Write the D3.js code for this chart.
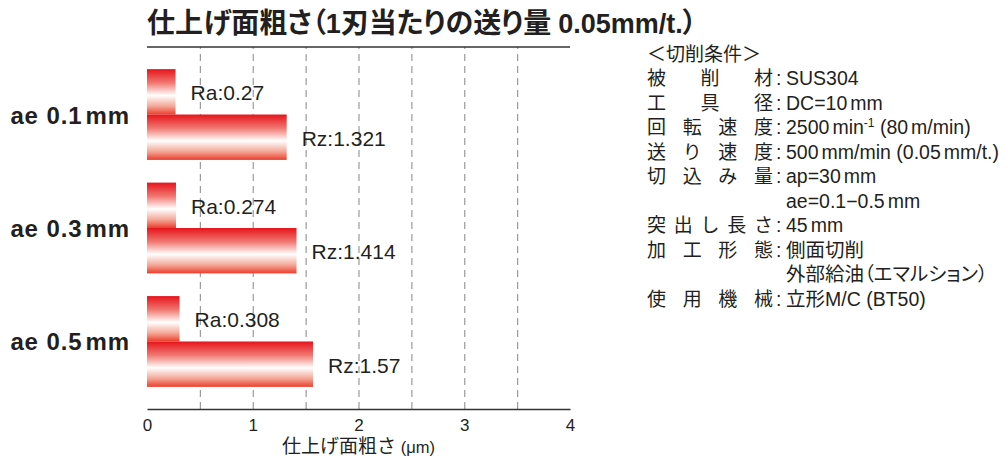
<!DOCTYPE html>
<html lang="ja">
<head>
<meta charset="utf-8">
<script src="https://cdn.jsdelivr.net/npm/d3@7"></script>
<style>
  html, body { margin: 0; padding: 0; background: #fff; }
  svg { display: block; }
  text { fill: #231f20; }
</style>
</head>
<body>
<svg id="chart" width="1005" height="457"></svg>
<script>
// Surface roughness per radial depth of cut (feed per tooth 0.05 mm/t.)
const categories = ["ae 0.1\u2009mm", "ae 0.3\u2009mm", "ae 0.5\u2009mm"];
const seriesKeys = ["Ra", "Rz"];
const raValues = [0.27, 0.274, 0.308];
const rzValues = [1.321, 1.414, 1.57];
const xTicks = [0, 1, 2, 3, 4];
const gridValues = [0.5, 1, 1.5, 2, 2.5, 3, 3.5];

// Cutting conditions: label (blank = continuation line) and value
const condLabels = ["被削材", "工具径", "回転速度", "送り速度", "切込み量", "", "突出し長さ", "加工形態", "", "使用機械"];
const condValues = [
  "SUS304",
  "DC=10\u2009mm",
  "2500\u2009min^-1 (80\u2009m/min)",
  "500\u2009mm/min (0.05\u2009mm/t.)",
  "ap=30\u2009mm",
  "ae=0.1\u22120.5\u2009mm",
  "45\u2009mm",
  "側面切削",
  "外部給油（エマルション）",
  "立形M/C (BT50)"
];

const FONT = "'Liberation Sans', Arial, 'Noto Sans CJK JP', sans-serif";
const THIN = 3; // width of the narrow gap between a number and its unit
const svg = d3.select("#chart");

// Append a string to a text element, turning thin spaces into small dx gaps
function addRuns(sel, str) {
  str.split("\u2009").forEach((part, i) => {
    const t = sel.append("tspan").text(part);
    if (i > 0) t.attr("dx", THIN);
  });
}

const plot = { left: 147, right: 570, top: 47, bottom: 409 };

const x = d3.scaleLinear().domain([0, 4]).range([plot.left, plot.right]);
const y = d3.scaleBand().domain(categories)
  .range([plot.top, plot.bottom]).paddingInner(0.2).paddingOuter(0.195);
const ySub = d3.scaleBand().domain(seriesKeys).range([0, y.bandwidth()]);

// Bar fill: red at the edges, white band a little below the middle
const defs = svg.append("defs");
const grad = defs.append("linearGradient").attr("id", "barGrad")
  .attr("x1", 0).attr("y1", 0).attr("x2", 0).attr("y2", 1);
[[0, "#e6141b"], [0.3, "#f07770"], [0.58, "#ffffff"], [0.82, "#f4a595"], [1, "#ec3d2c"]]
  .forEach(([o, c]) => grad.append("stop").attr("offset", o).attr("stop-color", c));

// Title
const title = svg.append("text")
  .attr("x", plot.left).attr("y", 33)
  .style("font-family", FONT).style("font-weight", "bold").style("font-size", "28px")
  .style("font-feature-settings", "'palt'");
title.append("tspan").text("仕上げ面粗さ（");
title.append("tspan").style("font-size", "27px").text("1");
title.append("tspan").text("刃当たりの送り量");
title.append("tspan").attr("dx", 7).style("font-size", "27px").text("0.05mm/t.");
title.append("tspan").text("）");

// Dashed vertical gridlines
const gridAxis = d3.axisBottom(x).tickValues(gridValues)
  .tickSize(-(plot.bottom - plot.top)).tickFormat("");
const gridG = svg.append("g").attr("transform", `translate(0,${plot.bottom})`).call(gridAxis);
gridG.select(".domain").remove();
gridG.selectAll(".tick line")
  .attr("stroke", "#9a9a9a").attr("stroke-width", 1.2).attr("stroke-dasharray", "7,5");

// Top rule
svg.append("line")
  .attr("x1", x(0)).attr("x2", x(4)).attr("y1", plot.top).attr("y2", plot.top)
  .attr("stroke", "#333").attr("stroke-width", 1.5);

// Bars
const rows = categories.map((c, i) => ({ cat: c, Ra: raValues[i], Rz: rzValues[i] }));
const groups = svg.append("g").selectAll("g").data(rows).join("g")
  .attr("transform", d => `translate(0,${y(d.cat)})`);

groups.selectAll("rect")
  .data(d => seriesKeys.map(k => ({ key: k, value: d[k] })))
  .join("rect")
  .attr("x", x(0))
  .attr("y", d => ySub(d.key))
  .attr("width", d => x(d.value) - x(0))
  .attr("height", ySub.bandwidth())
  .attr("fill", "url(#barGrad)");

groups.selectAll("text.val")
  .data(d => seriesKeys.map(k => ({ key: k, value: d[k] })))
  .join("text")
  .attr("class", "val")
  .attr("x", d => x(d.value) + 15)
  .attr("y", d => ySub(d.key) + ySub.bandwidth() / 2 + 8.5)
  .style("font-family", FONT).style("font-size", "21px")
  .text(d => `${d.key}:${d.value}`);

// Category labels
svg.append("g").selectAll("text").data(categories).join("text")
  .attr("x", 130)
  .attr("y", d => y(d) + y.bandwidth() / 2 + 9)
  .attr("text-anchor", "end")
  .style("font-family", FONT).style("font-weight", "bold")
  .style("font-size", "24px").style("letter-spacing", "0.9px")
  .each(function (d) { addRuns(d3.select(this), d); });

// Bottom axis
const xAxis = d3.axisBottom(x).tickValues(xTicks).tickSize(0).tickPadding(10).tickFormat(d3.format("d"));
const axG = svg.append("g").attr("transform", `translate(0,${plot.bottom})`).call(xAxis);
axG.select(".domain").attr("stroke", "#333").attr("stroke-width", 1.5);
axG.selectAll(".tick text")
  .style("font-family", FONT).style("font-size", "17px").attr("fill", "#333");

const axTitle = svg.append("text")
  .attr("x", (plot.left + plot.right) / 2).attr("y", 453)
  .attr("text-anchor", "middle")
  .style("font-family", FONT).style("font-size", "19px");
axTitle.append("tspan").text("仕上げ面粗さ");
axTitle.append("tspan").style("font-size", "16.5px").text(" (μm)");

// Cutting conditions block
const cond = svg.append("g").style("font-family", FONT);
const lineY0 = 54, lineStep = 24.45, base = 7;
const labelLeft = 647, labelRight = 773, charSize = 19;

cond.append("text")
  .attr("x", labelLeft).attr("y", lineY0 + base)
  .style("font-size", "19px")
  .text("＜切削条件＞");

condLabels.forEach((lab, i) => {
  const cy = lineY0 + lineStep * (i + 1) + base;
  if (lab) {
    const chars = Array.from(lab);
    const gap = (labelRight - labelLeft - charSize) / (chars.length - 1);
    chars.forEach((ch, j) => {
      cond.append("text")
        .attr("x", labelLeft + j * gap).attr("y", cy)
        .style("font-size", charSize + "px")
        .text(ch);
    });
    cond.append("text")
      .attr("x", 776).attr("y", cy)
      .style("font-size", "19.5px")
      .text(":");
  }
  const t = cond.append("text")
    .attr("x", 786).attr("y", cy)
    .style("font-size", "19.5px")
    .style("font-feature-settings", "'palt'");
  const parts = condValues[i].split("^");
  addRuns(t, parts[0]);
  if (parts.length > 1) {
    const m = parts[1].match(/^(-1)(.*)$/);
    t.append("tspan").attr("dy", -7).style("font-size", "12px").text(m[1]);
    const rest = t.append("tspan").attr("dy", 7);
    addRuns(rest, m[2]);
  }
});
</script>
</body>
</html>
